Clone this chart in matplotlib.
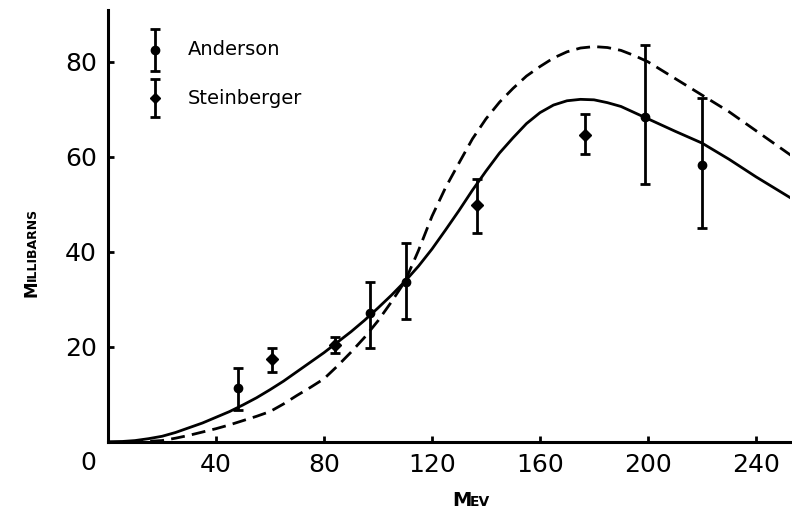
import matplotlib
matplotlib.use("Agg")
import matplotlib.pyplot as plt
import numpy as np

# theory curves (MeV, millibarns)
curve_e = [0, 5, 10, 15, 20, 25, 30, 35, 40, 45, 50, 55, 60, 65, 70, 75, 80, 85, 90, 95,
           100, 105, 110, 115, 120, 125, 130, 135, 140, 145, 150, 155, 160, 165, 170, 175,
           180, 185, 190, 195, 200, 210, 220, 230, 240, 253]
solid_mb = [0, 0.1, 0.3, 0.7, 1.2, 2.0, 3.0, 4.0, 5.2, 6.4, 7.8, 9.3, 11.0, 12.8, 14.8, 16.8,
            18.8, 21.0, 23.2, 25.6, 28.2, 30.9, 33.8, 37.0, 40.6, 44.6, 48.7, 53.0, 57.0, 60.8,
            64.0, 67.0, 69.3, 70.9, 71.8, 72.1, 72.0, 71.4, 70.6, 69.3, 68.0, 65.4, 62.9, 59.5,
            55.8, 51.3]
dash_mb = [0, 0, 0.05, 0.15, 0.3, 0.8, 1.4, 2.1, 2.8, 3.6, 4.5, 5.4, 6.4, 8.0, 9.8, 11.5,
           13.3, 16.0, 18.9, 22.0, 25.5, 29.5, 33.8, 40.3, 47.5, 53.5, 58.7, 63.8, 68.0, 71.5,
           74.4, 77.0, 79.0, 80.8, 82.1, 82.9, 83.2, 83.0, 82.4, 81.3, 80.0, 76.5, 73.0, 69.5,
           65.5, 60.3]

# measurements
anderson_e = [48, 97, 110.5, 199, 220]
anderson_mb = [11.4, 27.1, 33.7, 68.3, 58.2]
anderson_lo = [6.7, 19.7, 25.9, 54.2, 45.0]
anderson_hi = [15.6, 33.7, 41.9, 83.6, 72.4]

steinberger_e = [60.6, 84, 136.6, 176.8]
steinberger_mb = [17.4, 20.4, 49.9, 64.6]
steinberger_lo = [14.8, 18.7, 43.9, 60.6]
steinberger_hi = [19.7, 22.0, 55.4, 69.0]

xticks = [40, 80, 120, 160, 200, 240]
yticks = [20, 40, 60, 80]

W, H = 792, 511
fig = plt.figure(figsize=(W / 100, H / 100), dpi=100)
ax = fig.add_axes([108 / W, (H - 442) / H, (790 - 108) / W, (442 - 10) / H])

ax.plot(curve_e, solid_mb, color="black", lw=2.0, solid_joinstyle="round")
ax.plot(curve_e, dash_mb, color="black", lw=2.0, dashes=(5, 2.6))

def bars(e, mb, lo, hi, mk):
    e = np.array(e); mb = np.array(mb)
    err = [mb - np.array(lo), np.array(hi) - mb]
    ax.errorbar(e, mb, yerr=err, fmt=mk, color="black", ms=6, lw=2.0,
                capsize=3.5, capthick=2.0, clip_on=False)

bars(anderson_e, anderson_mb, anderson_lo, anderson_hi, "o")
bars(steinberger_e, steinberger_mb, steinberger_lo, steinberger_hi, "D")

ax.set_xlim(0, 252.6)
ax.set_ylim(0, 90.9)
ax.set_xticks(xticks)
ax.set_yticks(yticks)
ax.set_xticklabels([str(t) for t in xticks], fontsize=18)
ax.set_yticklabels([str(t) for t in yticks], fontsize=18)
ax.tick_params(direction="in", length=4, width=2, pad=8)
for s in ["top", "right"]:
    ax.spines[s].set_visible(False)
for s in ["left", "bottom"]:
    ax.spines[s].set_linewidth(2.2)

# legend drawn by hand
ax.errorbar([17.5], [82.5], yerr=[[4.5], [4.5]], fmt="o", color="black", ms=6, lw=2.0,
            capsize=3.5, capthick=2.0)
ax.errorbar([17.5], [72.3], yerr=[[4], [4]], fmt="D", color="black", ms=5, lw=2.0,
            capsize=3.5, capthick=2.0)
ax.text(29.5, 82.5, "Anderson", fontsize=14, va="center", ha="left")
ax.text(29.5, 72.3, "Steinberger", fontsize=14, va="center", ha="left")

# origin label and small-caps axis titles
fig.text(88 / W, 1 - 463 / H, "0", fontsize=18, ha="center", va="center")
fig.text(462 / W, 1 - 500 / H, "M", fontsize=14, fontweight="bold", ha="center", va="center")
fig.text(470 / W, 1 - 502 / H, "EV", fontsize=10, fontweight="bold", ha="left", va="center")
fig.text(31 / W, 1 - 289 / H, "M", fontsize=12, fontweight="bold", rotation=90, ha="center", va="center")
fig.text(32 / W, 1 - 281 / H, "ILLIBARNS", fontsize=9, fontweight="bold", rotation=90,
         ha="center", va="bottom")

fig.savefig("out.png", dpi=100)
